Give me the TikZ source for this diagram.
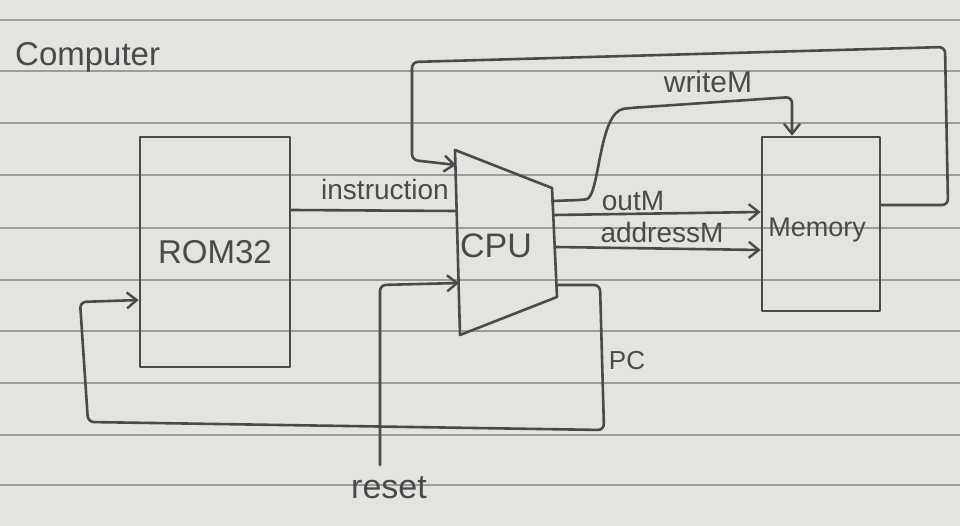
\documentclass[tikz,border=0pt]{standalone}
\usepackage{fontspec}
\setmainfont{Liberation Sans}
\usetikzlibrary{arrows.meta}
\definecolor{paper}{HTML}{E5E3E0}
\definecolor{rule}{HTML}{9C9C9C}
\definecolor{ink}{HTML}{4A4A4A}
\tikzset{
  ink/.style={draw=ink, line width=2.6pt, line join=round, line cap=round},
  wire/.style={ink, rounded corners=6pt},
  arr/.style={wire, -{Straight Barb[length=10pt,width=16pt,line width=2.4pt]}},
  lbl/.style={text=ink, inner sep=0pt, font=\fontsize{26}{28}\selectfont},
  block/.style={ink, rectangle, inner sep=0pt},
}
\begin{document}
\begin{tikzpicture}[x=1pt,y=-1pt]
\useasboundingbox (0,0) rectangle (960,526);
\fill[paper] (0,0) rectangle (960,526);
\foreach \yy in {20,71,123,175,228,280,331,383,435,485}
  \draw[rule, line width=1.1pt] (0,\yy) -- (960,\yy);

% title
\node[lbl, anchor=base west, font=\fontsize{33}{35}\selectfont] (title) at (15,66) {Computer};

% ROM
\node[block, minimum width=150pt, minimum height=230pt, font=\fontsize{33}{35}\selectfont, text=ink] (ROM) at (215,252) {ROM32};

% Memory
\node[block, minimum width=118pt, minimum height=174pt] (MEM) at (821,224) {};
\node[lbl, font=\fontsize{27}{29}\selectfont] (memlbl) at (817,230) {Memory};

% CPU
\coordinate (c1) at (455,150);
\coordinate (c2) at (552,188);
\coordinate (c3) at (557,297);
\coordinate (c4) at (460,335);
\draw[ink] (c1) -- (c2) -- (c3) -- (c4) -- cycle;
\node[lbl, font=\fontsize{34}{36}\selectfont] (CPU) at (496,246) {CPU};

% CPU ports
\coordinate (cpuA) at (456,165);
\coordinate (cpuI) at (456,211);
\coordinate (cpuR) at (459,283);
\coordinate (cpuW) at (552,201);
\coordinate (cpuO) at (554,215);
\coordinate (cpuD) at (556,247);
\coordinate (cpuP) at (557,285);
\coordinate (rst) at (380,465);

% instruction
\draw[wire] (ROM.east |- 0,210) -- (cpuI);
\node[lbl, anchor=base, font=\fontsize{28}{30}\selectfont] (linstr) at (385,200) {instruction};

% inM loop
\draw[arr] (MEM.east |- 0,205) -- (948,205) -- (945,47) -- (412,62) -- (412,160) -- (cpuA);

% writeM
\draw[arr] (cpuW) -- (580,200) .. controls (600,198) and (598,112) .. (630,108) -- (792,97) -- (MEM.north -| 792,0);
\node[lbl, anchor=base, font=\fontsize{30}{32}\selectfont] (lwrite) at (708,93) {writeM};

% outM
\draw[arr] (cpuO) -- (MEM.west |- 0,212);
\node[lbl, anchor=base, font=\fontsize{28}{30}\selectfont] (lout) at (633,211) {outM};

% addressM
\draw[arr] (cpuD) -- (MEM.west |- 0,250);
\node[lbl, anchor=base, font=\fontsize{28}{30}\selectfont] (laddr) at (662,243) {addressM};

% PC
\draw[arr] (cpuP) -- (600,285) -- (604,430) -- (88,422) -- (80,302) -- (ROM.west |- 0,300);
\node[lbl, font=\fontsize{26}{28}\selectfont] (lpc) at (627,361) {PC};

% reset
\draw[arr] (rst) -- (380,285) -- (cpuR);
\node[lbl, font=\fontsize{34}{36}\selectfont] (lreset) at (389,488) {reset};
\end{tikzpicture}
\end{document}
